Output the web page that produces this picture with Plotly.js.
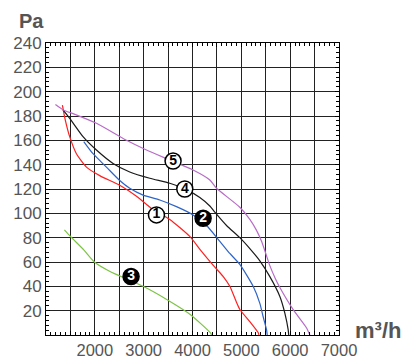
<!DOCTYPE html>
<html>
<head>
<meta charset="utf-8">
<script src="https://cdn.plot.ly/plotly-3.0.1.min.js"></script>
<style>html,body{margin:0;padding:0;background:#fff;}#chart{width:414px;height:364px;}</style>
</head>
<body>
<div id="chart"></div>
<script>
// Curve 1 (red)
const redX = [1336,1393,1485,1623,1828,2100,2510,2852,3193,3535,3945,4160,4430,4630,4764,4900,4970,5174,5344,5360];
const redY = [189,177,163,149,138,131,123,114,103,95,81,70,57,48,40,27,21,11,2,0];
// Curve 2 (blue)
const blueX = [1773,1963,2237,2510,2715,2988,3330,3672,4012,4287,4560,4764,4969,5242,5379,5447,5516,5530];
const blueY = [159,149,138,127,120.6,115,111,105.5,98.7,90,77,67,58,40,26,15,4.4,0];
// Curve 3 (green)
const greenX = [1377,1500,1773,1992,2320,2660,2988,3480,3959,4369,4390];
const greenY = [86.4,81,70,60,52,46,40,29,16.7,1.7,0];
// Curve 4 (black)
const blackX = [1348,1486,1758,2033,2373,2715,3125,3535,3850,4150,4355,4457,4697,4969,5174,5379,5584,5789,5891,5959,5970];
const blackY = [185,178,163,152,141,134,128.8,124.7,120,113,106,101,90,80,71,61,48,31.7,18,4.4,0];
// Curve 5 (purple)
const purpleX = [1193,1363,1553,2033,2648,3057,3535,4012,4355,4492,4969,5174,5311,5414,5500,5584,5700,5789,6062,6336,6404];
const purpleY = [189.5,184.8,182,174,160,152,143.8,135.6,127.4,120.6,105,95,86,77,67,57,46,39,20.8,5.8,0];

// Curve number badges
const badgeLabels = ['1','2','3','4','5'];
const badgeX = [3262,4217,2742,3842,3602];
const badgeY = [98.7,96,48.1,120,143];
const badgeInverted = [false,true,true,false,false];

// Axis ticks
const xTickVals = [1500,2000,2500,3000,3500,4000,4500,5000,5500,6000,6500,7000];
const xTickText = ['','2000','','3000','','4000','','5000','','6000','','7000'];
const yTickVals = [20,40,60,80,100,120,140,160,180,200,220,240];
const yTickText = ['20','40','60','80','100','120','140','160','180','200','220','240'];

function curve(x, y, color) {
  return {x: x, y: y, type: 'scatter', mode: 'lines',
    line: {color: color, width: 1.2, shape: 'spline', smoothing: 0.6},
    hoverinfo: 'skip', showlegend: false};
}

const traces = [
  curve(greenX, greenY, '#7cc444'),
  curve(redX, redY, '#ff2020'),
  curve(blueX, blueY, '#2e64c8'),
  curve(blackX, blackY, '#1a1a1a'),
  curve(purpleX, purpleY, '#b86cc8'),
  {
    x: badgeX, y: badgeY, type: 'scatter', mode: 'markers+text',
    text: badgeLabels, textposition: 'middle center',
    textfont: {family: 'Liberation Sans, Arial, sans-serif', size: 14, weight: 'bold',
      color: badgeInverted.map(b => b ? '#fff' : '#000')},
    marker: {size: 16, symbol: 'circle',
      color: badgeInverted.map(b => b ? '#000' : '#fff'),
      line: {color: '#000', width: 1.5}},
    hoverinfo: 'skip', showlegend: false, cliponaxis: false
  }
];

const tickFont = {family: 'Liberation Sans, Arial, sans-serif', size: 16.5, color: '#555'};

const layout = {
  width: 414, height: 364,
  margin: {l: 46, r: 75, t: 43, b: 29, pad: 0},
  paper_bgcolor: '#fff', plot_bgcolor: '#fff',
  showlegend: false,
  xaxis: {
    range: [1000, 7000], tickmode: 'array', tickvals: xTickVals, ticktext: xTickText,
    showgrid: true, gridcolor: '#222', gridwidth: 1, zeroline: false,
    showline: true, linecolor: '#000', linewidth: 1, mirror: 'allticks',
    ticks: 'inside', ticklen: 4, tickcolor: '#000',
    minor: {dtick: 100, tick0: 1000, ticks: 'inside', ticklen: 3, tickcolor: '#000', showgrid: false},
    tickfont: tickFont, fixedrange: true
  },
  yaxis: {
    range: [0, 240], tickmode: 'array', tickvals: yTickVals, ticktext: yTickText,
    showgrid: true, gridcolor: '#222', gridwidth: 1, zeroline: false,
    showline: true, linecolor: '#000', linewidth: 1, mirror: 'allticks',
    ticks: 'inside', ticklen: 4, tickcolor: '#000',
    minor: {dtick: 4, tick0: 0, ticks: 'inside', ticklen: 3, tickcolor: '#000', showgrid: false},
    tickfont: Object.assign({}, tickFont, {size: 17}), fixedrange: true
  },
  annotations: [
    {text: 'Pa', xref: 'paper', yref: 'paper', x: -0.051, y: 1.075,
     xanchor: 'center', yanchor: 'middle', showarrow: false,
     font: {family: 'Liberation Sans, Arial, sans-serif', size: 20, weight: 'bold', color: '#555'}},
    {text: 'm³/h', xref: 'paper', yref: 'paper', x: 1.133, y: 0.014,
     xanchor: 'center', yanchor: 'middle', showarrow: false,
     font: {family: 'Liberation Sans, Arial, sans-serif', size: 22, weight: 'bold', color: '#555'}}
  ]
};

Plotly.newPlot('chart', traces, layout, {displayModeBar: false, staticPlot: true});
</script>
</body>
</html>
